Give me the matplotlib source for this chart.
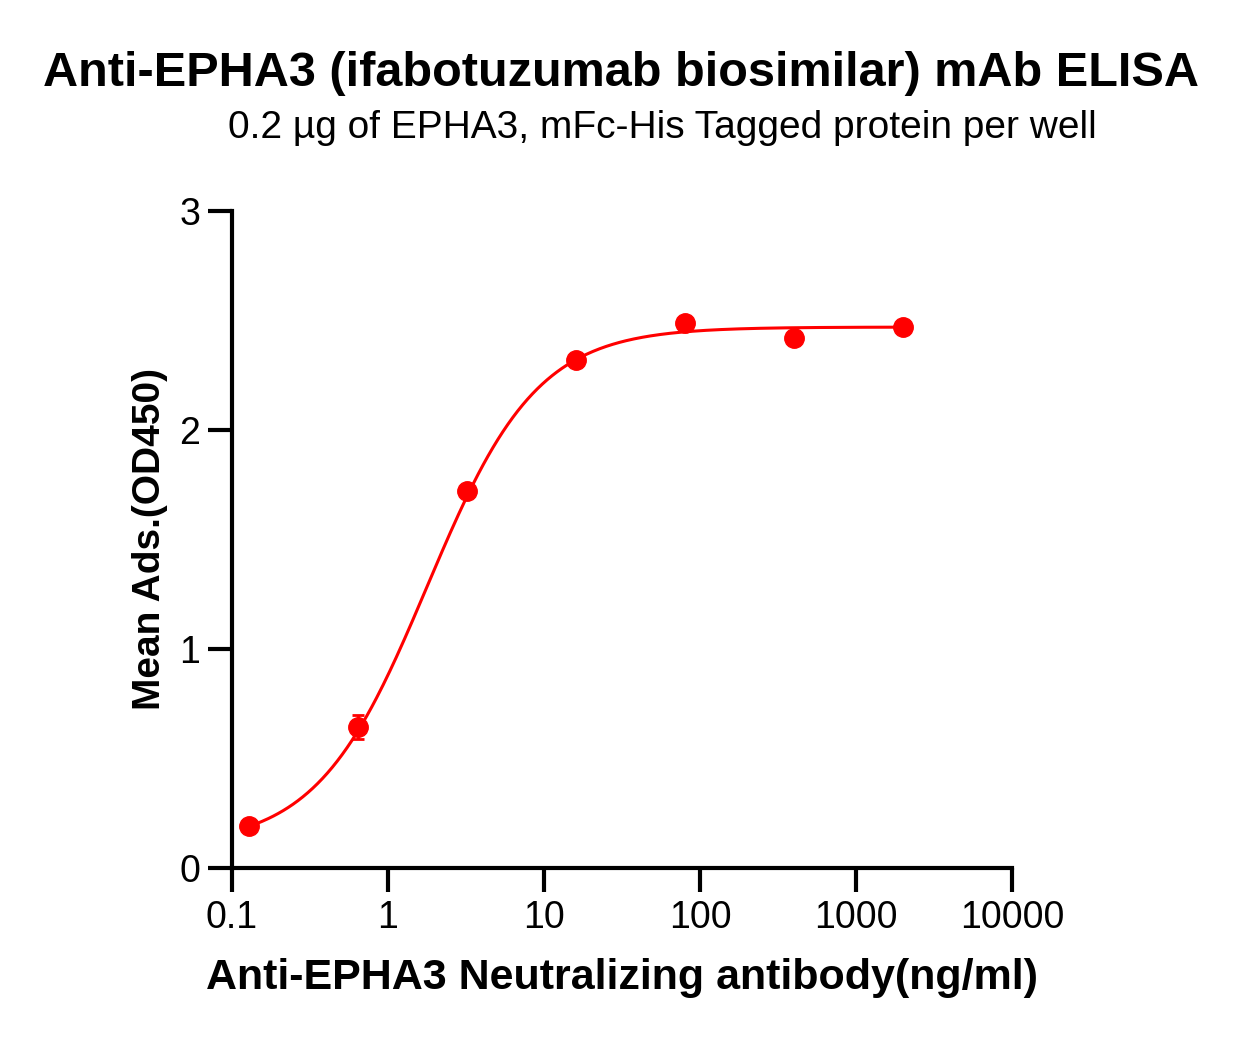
import matplotlib
matplotlib.use("Agg")
import matplotlib.pyplot as plt
import numpy as np

# concentrations (ng/ml) and mean OD450
conc = [0.128, 0.64, 3.2, 16, 80, 400, 2000]
od450 = [0.19, 0.645, 1.72, 2.32, 2.49, 2.42, 2.47]
od_err = [0.01, 0.055, 0.02, 0.015, 0.01, 0.01, 0.01]

# 4-parameter logistic fit (estimated)
fit_bottom = 0.10
fit_top = 2.47
fit_ec50 = 1.78
fit_hill = 1.23

x_ticks = [0.1, 1, 10, 100, 1000, 10000]
x_ticklabels = ["0.1", "1", "10", "100", "1000", "10000"]
y_ticks = [0, 1, 2, 3]

plt.rcParams["font.family"] = ["Liberation Sans", "DejaVu Sans"]

fig = plt.figure(figsize=(12.42, 10.41), dpi=100)
ax = fig.add_axes([0.1868, 0.1662, 0.628, 0.6311])

xs = np.logspace(np.log10(conc[0]), np.log10(conc[-1]), 400)
ys = fit_bottom + (fit_top - fit_bottom) / (1 + (fit_ec50 / xs) ** fit_hill)
ax.plot(xs, ys, color="#ff0000", lw=2.2, zorder=2)
ax.errorbar(conc, od450, yerr=od_err, fmt="o", color="#ff0000", ms=14,
            elinewidth=2, capsize=4, capthick=2, zorder=3)

ax.set_xscale("log")
ax.set_xlim(0.1, 10000)
ax.set_ylim(0, 3)
ax.set_xticks(x_ticks)
ax.set_xticklabels(x_ticklabels)
ax.minorticks_off()
ax.set_yticks(y_ticks)

for side in ["top", "right"]:
    ax.spines[side].set_visible(False)
for side in ["left", "bottom"]:
    ax.spines[side].set_linewidth(3)
ax.tick_params(width=3, length=17, labelsize=27, pad=6)

ax.set_xlabel("Anti-EPHA3 Neutralizing antibody(ng/ml)", fontsize=31,
              fontweight="bold", labelpad=16)
ax.set_ylabel("Mean Ads.(OD450)", fontsize=28, fontweight="bold", labelpad=8)

fig.text(0.5, 0.929, "Anti-EPHA3 (ifabotuzumab biosimilar) mAb ELISA",
         ha="center", va="center", fontsize=35, fontweight="bold")
fig.text(0.533, 0.877, "0.2 \u00b5g of EPHA3, mFc-His Tagged protein per well",
         ha="center", va="center", fontsize=28)

fig.savefig("out.png", dpi=100)
